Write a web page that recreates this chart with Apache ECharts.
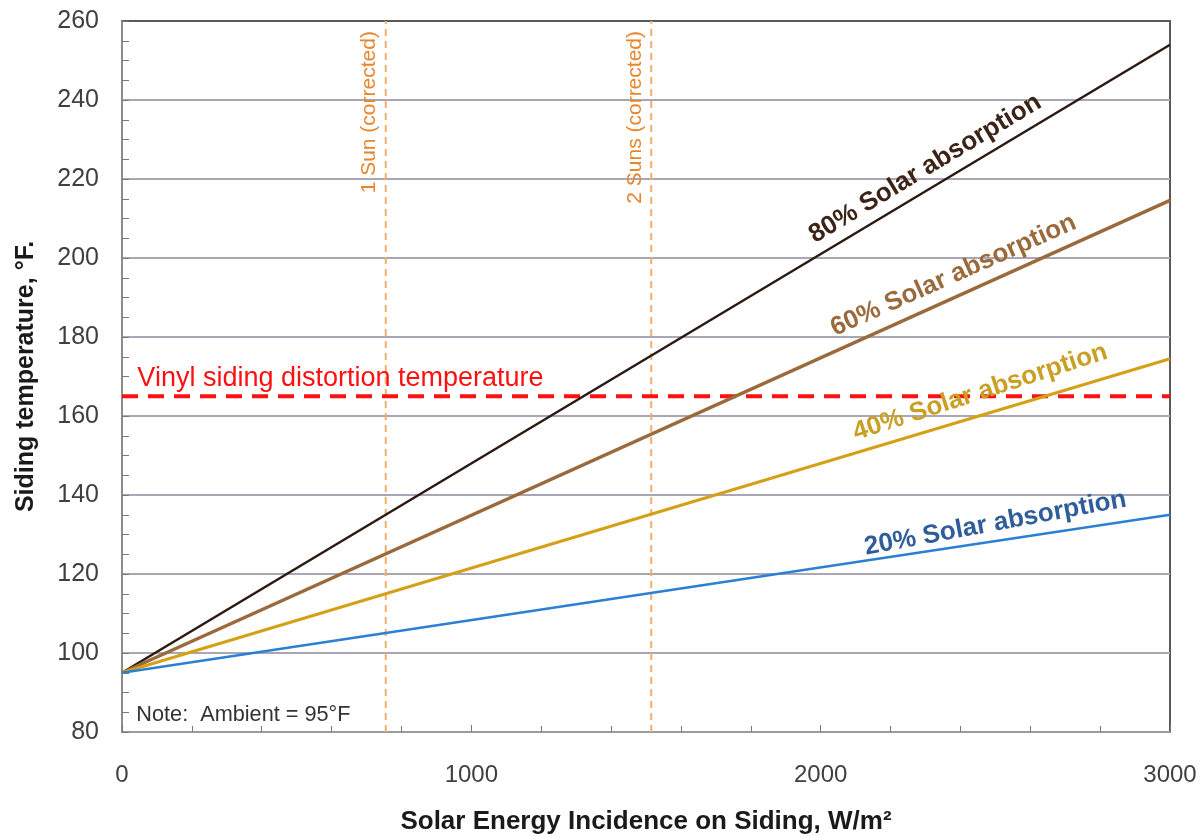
<!DOCTYPE html>
<html>
<head>
<meta charset="utf-8">
<script src="https://cdn.jsdelivr.net/npm/echarts@6/dist/echarts.min.js"></script>
<style>
html,body{margin:0;padding:0;background:#fff;}
#chart{width:1203px;height:837px;}
</style>
</head>
<body>
<div id="chart"></div>
<script>
// ---- data ----
const xValues = [0, 3000];
const abs80 = [95, 254];
const abs60 = [95, 214.6];
const abs40 = [95, 174.5];
const abs20 = [95, 135];
const vinylTemp = 165;
const sunPositions = [755, 1515];
const sunLabels = ['1 Sun (corrected)', '2 Suns (corrected)'];
const xTicks = [0, 1000, 2000, 3000];
const yTicks = [80, 100, 120, 140, 160, 180, 200, 220, 240, 260];
// annotation anchors in data coordinates [x, y, text, angle]
const lineLabels = [
  [2299, 222.6, '80% Solar absorption', 31],
  [2380, 195.6, '60% Solar absorption', 24],
  [2457, 166.0, '40% Solar absorption', 18],
  [2500, 132.8, '20% Solar absorption', 10.5]
];
const sunLabelPos = [[708, 236.9], [1468, 235.6]];
const vinylLabel = [44, 169.4, 'Vinyl siding distortion temperature'];
const noteLabel = [41, 84.2, 'Note:  Ambient = 95°F'];

const lineColors = ['#2a1a12', '#9b6a3c', '#d4a017', '#2a80d2'];
const labelColors = ['#3b2417', '#9b6a3c', '#c9a024', '#2f5d9a'];
const lineWidths = [2.5, 3.5, 3, 2.5];
const FONT = '"Liberation Sans", Arial, sans-serif';

function pairs(ys) { return xValues.map((x, i) => [x, ys[i]]); }

const chart = echarts.init(document.getElementById('chart'), null, {renderer: 'canvas'});

const series = [];
[abs80, abs60, abs40, abs20].forEach((ys, i) => {
  series.push({
    type: 'line', data: pairs(ys), showSymbol: false, silent: true,
    lineStyle: {color: lineColors[i], width: lineWidths[i]}, z: 5
  });
});
// vinyl line
series.push({
  type: 'line', data: [[xValues[0], vinylTemp], [xValues[1], vinylTemp]],
  showSymbol: false, silent: true, z: 4,
  lineStyle: {color: '#ff1010', width: 4, type: [16, 10]}
});
// sun lines
sunPositions.forEach(p => {
  series.push({
    type: 'line', data: [[p, 80], [p, 260]], showSymbol: false, silent: true, z: 3,
    lineStyle: {color: '#f5ad6a', width: 2, type: [7, 5]}
  });
});
function textSeries(point, text, style) {
  return {
    type: 'scatter', silent: true, symbolSize: 2, z: 10,
    itemStyle: {color: 'rgba(0,0,0,0)', opacity: 1},
    data: [point],
    label: Object.assign({show: true, position: 'inside', formatter: text, opacity: 1,
      fontFamily: FONT, align: 'center', verticalAlign: 'middle'}, style)
  };
}
lineLabels.forEach((l, i) => {
  series.push(textSeries([l[0], l[1]], l[2],
    {rotate: l[3], color: labelColors[i], fontSize: 26, fontWeight: 'bold'}));
});
sunLabelPos.forEach((p, i) => {
  series.push(textSeries(p, sunLabels[i], {rotate: 90, color: '#e8862e', fontSize: 21}));
});
series.push(textSeries([vinylLabel[0], vinylLabel[1]], vinylLabel[2],
  {color: '#ff1010', fontSize: 27, align: 'left'}));
series.push(textSeries([noteLabel[0], noteLabel[1]], noteLabel[2],
  {color: '#333', fontSize: 21.7, align: 'left'}));

chart.setOption({
  animation: false,
  backgroundColor: '#fff',
  grid: {left: 122, right: 33, top: 21, bottom: 105, show: true,
    outerBoundsMode: 'none', containLabel: false,
    borderColor: '#5a5a5a', borderWidth: 2, backgroundColor: 'transparent'},
  xAxis: {
    type: 'value', min: xTicks[0], max: xTicks[xTicks.length - 1], interval: 1000,
    name: 'Solar Energy Incidence on Siding, W/m²', nameLocation: 'middle', nameGap: 77,
    nameTextStyle: {fontSize: 26, fontWeight: 'bold', color: '#1a1a1a', fontFamily: FONT},
    axisLine: {show: true, lineStyle: {color: '#9d98a5', width: 2}},
    axisTick: {show: true, inside: true, length: 7, lineStyle: {color: '#7a7580'}},
    minorTick: {show: true, splitNumber: 5, length: 6, lineStyle: {color: '#7a7580', width: 1}},
    axisLabel: {fontSize: 24, color: '#404040', fontFamily: FONT, margin: 31,
      formatter: v => String(v)},
    splitLine: {show: false}
  },
  yAxis: {
    type: 'value', min: yTicks[0], max: yTicks[yTicks.length - 1], interval: 20,
    name: 'Siding temperature, °F.', nameLocation: 'middle', nameGap: 83,
    nameTextStyle: {fontSize: 25, fontWeight: 'bold', color: '#1a1a1a', fontFamily: FONT},
    axisLine: {show: true, lineStyle: {color: '#8c8c8c', width: 2}},
    axisTick: {show: true, inside: true, length: 7, lineStyle: {color: '#7a7580'}},
    minorTick: {show: true, splitNumber: 4, length: 7, lineStyle: {color: '#7a7580', width: 1}},
    axisLabel: {fontSize: 25, color: '#404040', fontFamily: FONT, margin: 23,
      formatter: v => String(v)},
    splitLine: {show: true, showMinLine: false, showMaxLine: false,
      lineStyle: {color: '#aba6b5', width: 2}}
  },
  series: series
});
</script>
</body>
</html>
